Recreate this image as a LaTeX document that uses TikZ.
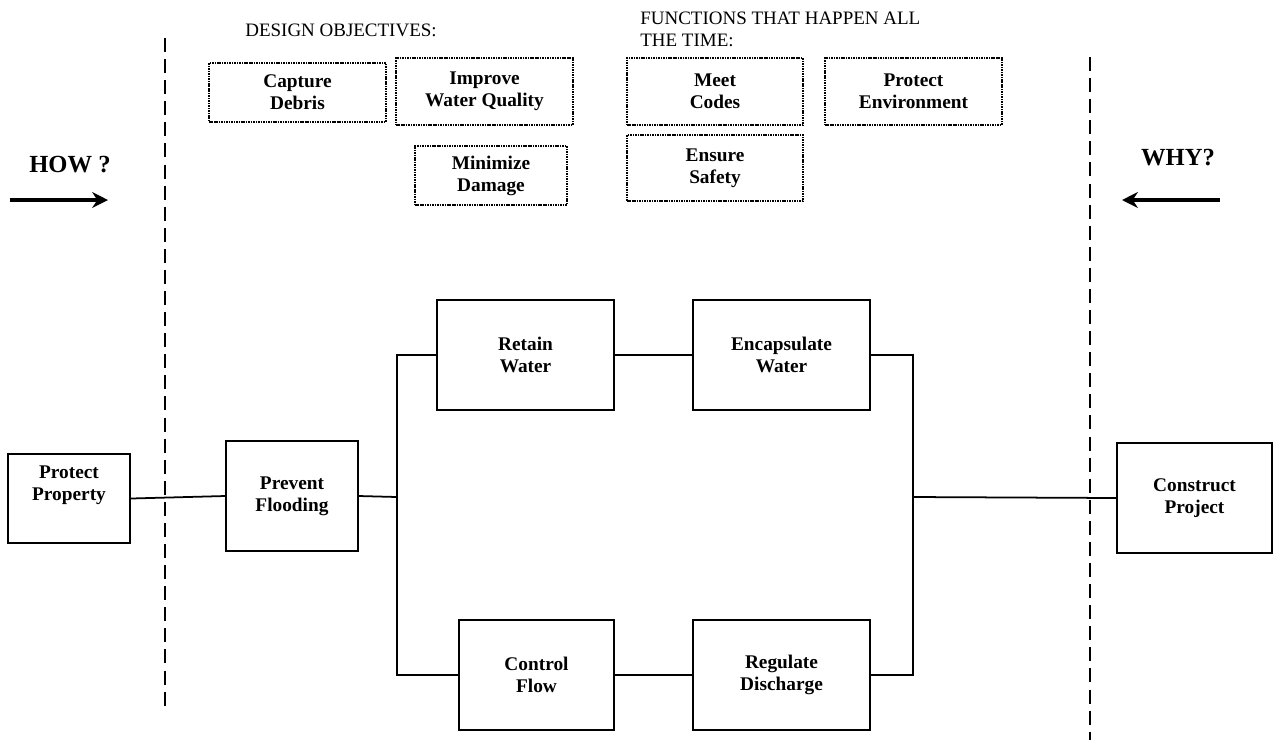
\documentclass[tikz,border=0pt]{standalone}
\usepackage{fontspec}
\setmainfont{Liberation Serif}
\usetikzlibrary{arrows.meta}
\begin{document}
\begin{tikzpicture}[x=0.02cm,y=-0.02cm,
  fbox/.style={draw,line width=1pt,minimum width=#1,inner sep=0pt,align=center,
    font=\bfseries\fontsize{11}{12.5}\selectfont},
  obox/.style={draw,line width=0.8pt,dash pattern=on 0.9pt off 0.5pt,inner sep=0pt,align=center,
    font=\bfseries\fontsize{11}{12.5}\selectfont},
  conn/.style={line width=1pt},
  divider/.style={line width=1.1pt,dash pattern=on 8pt off 4pt},
  dirarrow/.style={line width=2.4pt,-{Stealth[length=9pt,width=9pt]}},
  heading/.style={font=\fontsize{10.8}{12.5}\selectfont,inner sep=0pt,anchor=west,align=left},
  bighead/.style={font=\bfseries\fontsize{14}{16}\selectfont,inner sep=0pt}
]
\useasboundingbox (0,0) rectangle (1273,745);

% dividers
\coordinate (dl1) at (165,38); \coordinate (dl2) at (165,708);
\coordinate (dr1) at (1090,57); \coordinate (dr2) at (1090,740);
\draw[divider] (dl1) -- (dl2);
\draw[divider] (dr1) -- (dr2);

% HOW / WHY
\node[bighead] (how) at (70,165) {HOW ?};
\node[bighead] (why) at (1178,158) {WHY?};
\coordinate (ha1) at (10,200); \coordinate (ha2) at (108,200);
\coordinate (wa1) at (1220,200); \coordinate (wa2) at (1122,200);
\draw[dirarrow] (ha1) -- (ha2);
\draw[dirarrow] (wa1) -- (wa2);

% headings
\node[heading] (dobj) at (245,30) {DESIGN OBJECTIVES:};
\node[heading] (func) at (640,29) {FUNCTIONS THAT HAPPEN ALL\\THE TIME:};

% objective boxes
\node[obox,minimum width=3.54cm,minimum height=1.18cm] (capture) at (297.5,92.5) {Capture\\Debris};
\node[obox,minimum width=3.54cm,minimum height=1.34cm] (improve) at (484.5,91.5) {Improve\\Water Quality};
\node[obox,minimum width=3.04cm,minimum height=1.18cm] (minimize) at (491,175.5) {Minimize\\Damage};
\node[obox,minimum width=3.52cm,minimum height=1.34cm] (codes) at (715,91.5) {Meet\\Codes};
\node[obox,minimum width=3.54cm,minimum height=1.34cm] (environ) at (913.5,91.5) {Protect\\Environment};
\node[obox,minimum width=3.52cm,minimum height=1.32cm] (safety) at (715,168) {Ensure\\Safety};

% function boxes
\node[fbox=2.44cm,minimum height=1.78cm,text depth=0.62cm] (property) at (69,498.5) {Protect\\Property};
\node[fbox=2.64cm,minimum height=2.2cm] (prevent) at (292,496) {Prevent\\Flooding};
\node[fbox=3.54cm,minimum height=2.2cm] (retain) at (525.5,355) {Retain\\Water};
\node[fbox=3.54cm,minimum height=2.2cm] (encap) at (781.5,355) {Encapsulate\\Water};
\node[fbox=3.1cm,minimum height=2.2cm] (control) at (536.5,675) {Control\\Flow};
\node[fbox=3.54cm,minimum height=2.2cm] (regulate) at (781.5,675) {Regulate\\Discharge};
\node[fbox=3.1cm,minimum height=2.2cm] (construct) at (1194.5,498) {Construct\\Project};

% connectors
\coordinate (lb) at (397,497);
\coordinate (rb) at (913,497);
\draw[conn] (property.east) -- (prevent.west);
\draw[conn] (prevent.east) -- (lb);
\draw[conn] (retain.west) -| (lb) |- (control.west);
\draw[conn] (retain.east) -- (encap.west);
\draw[conn] (control.east) -- (regulate.west);
\draw[conn] (encap.east) -| (rb) |- (regulate.east);
\draw[conn] (rb) -- (construct.west);
\end{tikzpicture}
\end{document}
